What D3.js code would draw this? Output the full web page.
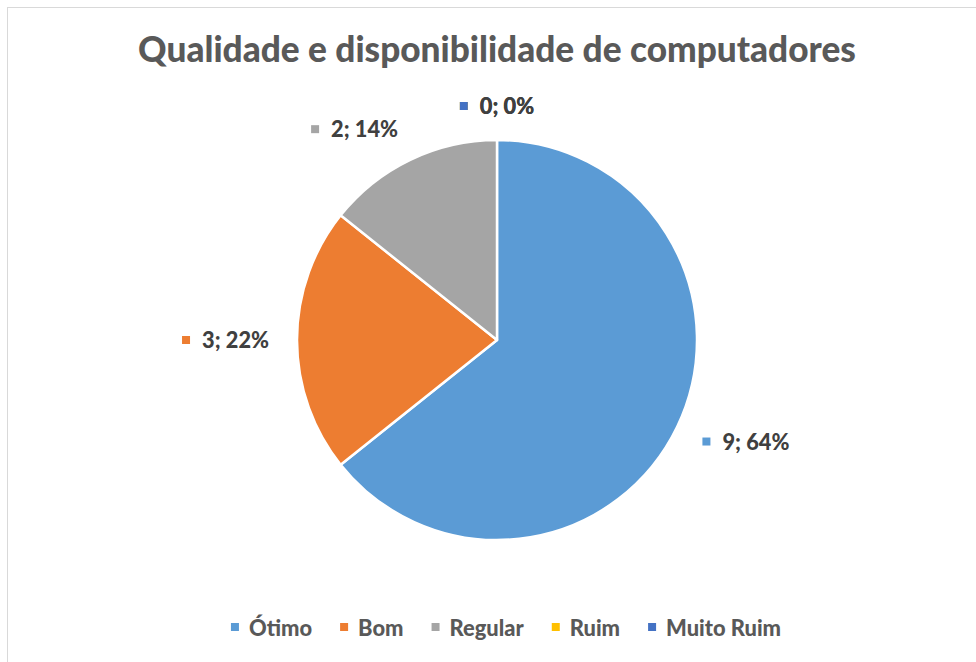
<!DOCTYPE html>
<html>
<head>
<meta charset="utf-8">
<script src="https://cdn.jsdelivr.net/npm/d3@7"></script>
<style>
    body { margin: 0; background: #fff; }
    svg { display: block; }
</style>
</head>
<body>
<div id="chart"></div>
<script>
const categories = ["Ótimo", "Bom", "Regular", "Ruim", "Muito Ruim"];
const counts = [9, 3, 2, 0, 0];
const percents = [64, 22, 14, 0, 0];
const colors = ["#5B9BD5", "#ED7D31", "#A5A5A5", "#FFC000", "#4472C4"];
const title = "Qualidade e disponibilidade de computadores";

const width = 976;
const height = 662;
const font = "Lato, 'Open Sans', sans-serif";
const weight = 900;

const svg = d3.select("#chart").append("svg")
    .attr("width", width)
    .attr("height", height);

svg.append("rect")
    .attr("x", 7.5).attr("y", 7.5)
    .attr("width", 1000).attr("height", 700)
    .attr("fill", "#fff")
    .attr("stroke", "#d9d9d9");

// pick a font size so a sample string has the wanted width
const fitSize = (text, target) => {
    const t = svg.append("text").attr("font-family", font)
        .attr("font-weight", weight).attr("font-size", 100).text(text);
    const w = t.node().getComputedTextLength();
    t.remove();
    return 100 * target / w;
};

const titleSize = fitSize(title, 718);
const labelSize = fitSize("9; 64%", 67);
const legendSize = fitSize("Muito Ruim", 115);

svg.append("text")
    .attr("x", 497).attr("y", 62)
    .attr("text-anchor", "middle")
    .attr("font-family", font).attr("font-weight", weight)
    .attr("font-size", titleSize)
    .attr("fill", "#595959")
    .text(title);

// pie
const cx = 497, cy = 340, radius = 200;
const pie = d3.pie().sort(null).value(d => d.value);
const data = categories.map((c, i) => ({ name: c, value: counts[i], pct: percents[i], color: colors[i] }));
const arcs = pie(data);
const arc = d3.arc().innerRadius(0).outerRadius(radius);

const g = svg.append("g").attr("transform", `translate(${cx},${cy})`);

g.selectAll("path")
    .data(arcs.filter(d => d.value > 0))
    .enter().append("path")
    .attr("d", arc)
    .attr("fill", d => d.data.color)
    .attr("stroke", "#fff")
    .attr("stroke-width", 2.5)
    .attr("stroke-linejoin", "round");

// data labels, outside end
const markerSize = 8, markerGap = 12, pad = 28;
const labels = g.append("g");
arcs.forEach(d => {
    const mid = (d.startAngle + d.endAngle) / 2;
    const s = Math.sin(mid), c = Math.cos(mid);
    const px = s * (radius + pad), py = -c * (radius + pad);
    const lg = labels.append("g");
    const txt = lg.append("text")
        .attr("font-family", font).attr("font-weight", weight)
        .attr("font-size", labelSize)
        .attr("fill", "#404040")
        .attr("dominant-baseline", "central")
        .text(`${d.data.value}; ${d.data.pct}%`);
    const tw = txt.node().getComputedTextLength();
    const w = markerSize + markerGap + tw;
    const h = 12;
    const hx = Math.max(-1, Math.min(1, s * 3));
    const bx = px + hx * w / 2, by = py - c * h / 2;
    const left = bx - w / 2;
    lg.append("rect")
        .attr("x", left).attr("y", by - markerSize / 2)
        .attr("width", markerSize).attr("height", markerSize)
        .attr("fill", d.data.color);
    txt.attr("x", left + markerSize + markerGap).attr("y", by);
});

// legend
const legendY = 627, legendGap = 28, legendTextGap = 10;
const legend = svg.append("g");
let lx = 0;
data.forEach(d => {
    const item = legend.append("g").attr("transform", `translate(${lx},0)`);
    item.append("rect")
        .attr("x", 0).attr("y", legendY - markerSize / 2)
        .attr("width", markerSize).attr("height", markerSize)
        .attr("fill", d.color);
    const t = item.append("text")
        .attr("x", markerSize + legendTextGap).attr("y", legendY)
        .attr("dominant-baseline", "central")
        .attr("font-family", font).attr("font-weight", weight)
        .attr("font-size", legendSize)
        .attr("fill", "#595959")
        .text(d.name);
    lx += markerSize + legendTextGap + t.node().getComputedTextLength() + legendGap;
});
const legendW = lx - legendGap;
legend.attr("transform", `translate(${506 - legendW / 2},0)`);
</script>
</body>
</html>
